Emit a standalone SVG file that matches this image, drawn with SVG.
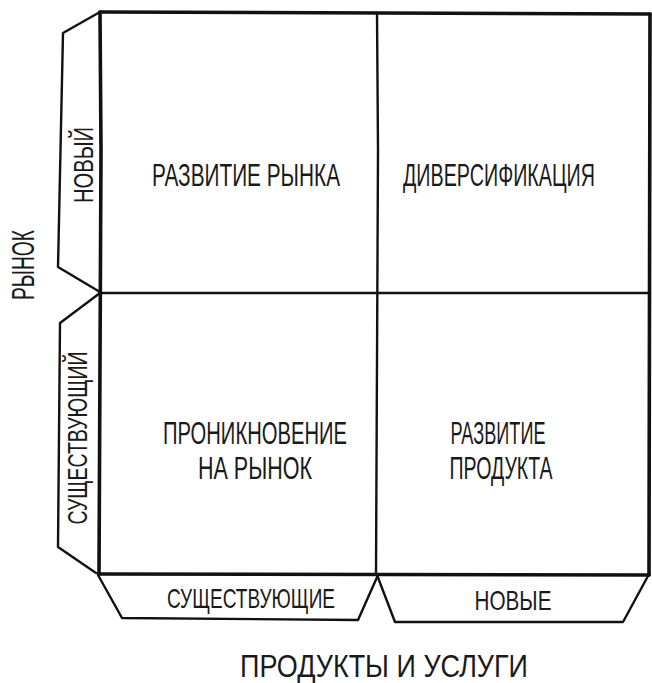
<svg xmlns="http://www.w3.org/2000/svg" width="652" height="683" viewBox="0 0 652 683">
<style>
.ln{fill:none;stroke:#111;stroke-linecap:round;stroke-linejoin:round}
.outer{stroke-width:3.6}
.inner{stroke-width:2.4}
.tab{stroke-width:2.4}
text{font-family:"Liberation Sans Narrow","Liberation Sans",Arial,sans-serif;fill:#1a1a1a;font-size:31px}
.lab{font-size:28px}
</style>
<rect width="652" height="683" fill="#fff"/>
<g id="tabs">
<g id="tab-new-market">
<path class="ln tab" d="M100 12 L63 33 L58 267 L100 292"/>
<text class="lab" transform="translate(93,165) rotate(-90)" text-anchor="middle" textLength="76" lengthAdjust="spacingAndGlyphs">НОВЫЙ</text>
</g>
<g id="tab-existing-market">
<path class="ln tab" d="M100 293 L60 323 L58 547 L96 573"/>
<text class="lab" transform="translate(87,438) rotate(-90)" text-anchor="middle" textLength="173" lengthAdjust="spacingAndGlyphs">СУЩЕСТВУЮЩИЙ</text>
</g>
<g id="tab-existing-products">
<path class="ln tab" d="M98 575 L122 618 L358 620 L378 575"/>
<text class="lab" x="251" y="608" text-anchor="middle" textLength="168" lengthAdjust="spacingAndGlyphs">СУЩЕСТВУЮЩИЕ</text>
</g>
<g id="tab-new-products">
<path class="ln tab" d="M377 575 L395 622 L623 622 L648 576"/>
<text class="lab" x="513" y="610" text-anchor="middle" textLength="77" lengthAdjust="spacingAndGlyphs">НОВЫЕ</text>
</g>
</g>
<g id="grid">
<path class="ln outer" d="M100 12 L650 14"/>
<path class="ln outer" d="M100 12 L101 150 L99 574"/>
<path class="ln outer" d="M99 574 L649 575"/>
<path class="ln outer" d="M650 14 L649 575"/>
<path class="ln inner" d="M377 13 L378 150 L376 574"/>
<path class="ln inner" d="M100 293 L650 293"/>
</g>
<g id="q-market-development">
<text x="246" y="186" text-anchor="middle" textLength="188" lengthAdjust="spacingAndGlyphs">РАЗВИТИЕ РЫНКА</text>
</g>
<g id="q-diversification">
<text x="499" y="186" text-anchor="middle" textLength="192" lengthAdjust="spacingAndGlyphs">ДИВЕРСИФИКАЦИЯ</text>
</g>
<g id="q-market-penetration">
<text x="255" y="444" text-anchor="middle" textLength="184" lengthAdjust="spacingAndGlyphs">ПРОНИКНОВЕНИЕ</text>
<text x="255" y="479" text-anchor="middle" textLength="114" lengthAdjust="spacingAndGlyphs">НА РЫНОК</text>
</g>
<g id="q-product-development">
<text x="498" y="444" text-anchor="middle" textLength="95" lengthAdjust="spacingAndGlyphs">РАЗВИТИЕ</text>
<text x="501" y="479" text-anchor="middle" textLength="103" lengthAdjust="spacingAndGlyphs">ПРОДУКТА</text>
</g>
<g id="axes">
<text transform="translate(34,265) rotate(-90)" text-anchor="middle" textLength="70" lengthAdjust="spacingAndGlyphs">РЫНОК</text>
<text x="384" y="677" text-anchor="middle" textLength="288" lengthAdjust="spacingAndGlyphs">ПРОДУКТЫ И УСЛУГИ</text>
</g>
</svg>
